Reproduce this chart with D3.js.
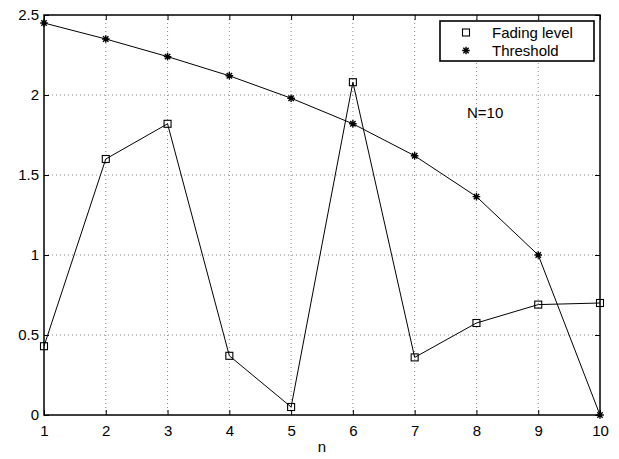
<!DOCTYPE html>
<html><head><meta charset="utf-8">
<script src="https://cdn.jsdelivr.net/npm/d3@7"></script>
<style>body{margin:0;background:#fff}svg{display:block}text{font-family:"Liberation Sans",Arial,sans-serif}</style>
</head><body><svg id="c" width="619" height="459"></svg>
<script>
const nVals = [1,2,3,4,5,6,7,8,9,10];
const fading = [0.43,1.60,1.82,0.37,0.05,2.08,0.36,0.575,0.69,0.70];
const threshold = [2.45,2.35,2.24,2.12,1.98,1.82,1.62,1.365,1.0,0.0];
const xTicks = [1,2,3,4,5,6,7,8,9,10];
const yTicks = [0,0.5,1,1.5,2,2.5];
const legendLabels = ["Fading level","Threshold"];
const annotation = "N=10";
const xLabel = "n";

const svg = d3.select("#c");
const L=44,R=600,T=15,B=415;
const x = d3.scaleLinear().domain([1,10]).range([L,R]);
const y = d3.scaleLinear().domain([0,2.5]).range([B,T]);

// grid
const g = svg.append("g");
g.selectAll(".gx").data(xTicks.slice(1,-1)).enter().append("line")
 .attr("x1",d=>x(d)).attr("x2",d=>x(d)).attr("y1",T).attr("y2",B)
 .attr("stroke","#888").attr("stroke-width",1).attr("stroke-dasharray","1,3");
g.selectAll(".gy").data(yTicks.slice(1,-1)).enter().append("line")
 .attr("y1",d=>y(d)).attr("y2",d=>y(d)).attr("x1",L).attr("x2",R)
 .attr("stroke","#888").attr("stroke-width",1).attr("stroke-dasharray","1,3");

// axes
const fmt = d=>String(d);
const ax = d3.axisBottom(x).tickValues(xTicks).tickSize(-5).tickPadding(10).tickFormat(fmt);
const axT = d3.axisTop(x).tickValues(xTicks).tickSize(-5).tickFormat("");
const ay = d3.axisLeft(y).tickValues(yTicks).tickSize(-5).tickPadding(5).tickFormat(fmt);
const ayR = d3.axisRight(y).tickValues(yTicks).tickSize(-5).tickFormat("");
function style(sel){sel.select(".domain").remove();sel.selectAll("line").attr("stroke","#000");sel.selectAll("text").attr("font-size",15).attr("fill","#000").attr("font-family","Liberation Sans, Arial, sans-serif");}
svg.append("g").attr("transform",`translate(0,${B})`).call(ax).call(style);
svg.append("g").attr("transform",`translate(0,${T})`).call(axT).call(style);
svg.append("g").attr("transform",`translate(${L},0)`).call(ay).call(style);
svg.append("g").attr("transform",`translate(${R},0)`).call(ayR).call(style);
svg.append("rect").attr("x",L).attr("y",T).attr("width",R-L).attr("height",B-T)
 .attr("fill","none").attr("stroke","#000").attr("stroke-width",1.5);

svg.append("text").attr("x",322).attr("y",452).attr("text-anchor","middle").attr("font-size",15).text(xLabel);

const line = d3.line().x((d,i)=>x(nVals[i])).y(d=>y(d));
svg.append("path").datum(fading).attr("d",line).attr("fill","none").attr("stroke","#000").attr("stroke-width",1);
svg.append("path").datum(threshold).attr("d",line).attr("fill","none").attr("stroke","#000").attr("stroke-width",1);

function square(sel,cx,cy){sel.append("rect").attr("x",cx-3.5).attr("y",cy-3.5).attr("width",7).attr("height",7).attr("fill","none").attr("stroke","#000").attr("stroke-width",1.1);}
function star(sel,cx,cy){
  const r=3.8, p=[];
  for(let k=0;k<4;k++){const a=k*Math.PI/4;p.push(`M${cx-r*Math.cos(a)},${cy-r*Math.sin(a)}L${cx+r*Math.cos(a)},${cy+r*Math.sin(a)}`);}
  sel.append("path").attr("d",p.join("")).attr("stroke","#000").attr("stroke-width",1.4).attr("fill","none");
}
fading.forEach((v,i)=>square(svg,x(nVals[i]),y(v)));
threshold.forEach((v,i)=>star(svg,x(nVals[i]),y(v)));

// legend
svg.append("rect").attr("x",440).attr("y",21).attr("width",154).attr("height",40).attr("fill","#fff").attr("stroke","#000").attr("stroke-width",1.6);
square(svg,466,32.5); star(svg,466,50.5);
svg.append("text").attr("x",492).attr("y",38).attr("font-size",15).text(legendLabels[0]);
svg.append("text").attr("x",492).attr("y",56).attr("font-size",15).text(legendLabels[1]);

svg.append("text").attr("x",467).attr("y",118).attr("font-size",15).text(annotation);
</script></body></html>
